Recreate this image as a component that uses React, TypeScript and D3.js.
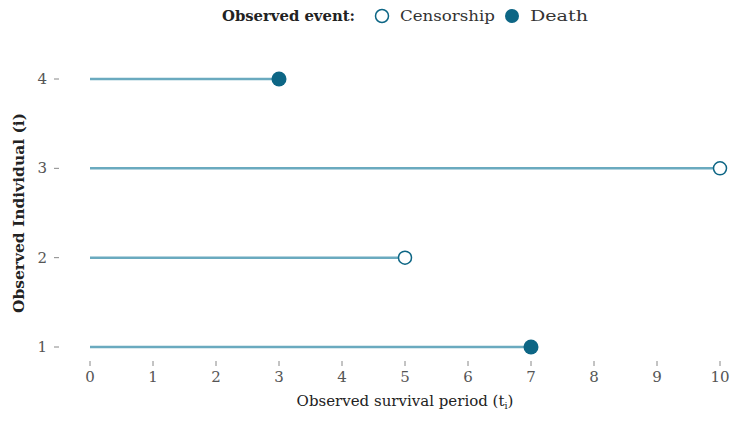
import React from "react";
import * as d3 from "d3";

const individuals = [1, 2, 3, 4];
const survivalTimes = [7, 5, 10, 3];
const events = ["Death", "Censorship", "Censorship", "Death"];
const xTicks = [0, 1, 2, 3, 4, 5, 6, 7, 8, 9, 10];
const legendItems = ["Censorship", "Death"];

const W = 730;
const H = 421;
const lineColor = "#6aaabf";
const dotColor = "#0d6685";
const font = "'DejaVu Serif', 'Liberation Serif', serif";

export default function App() {
  const x = d3.scaleLinear().domain([0, 10]).range([90, 720]);
  const y = d3.scaleLinear().domain([1, 4]).range([347, 79]);
  return (
    <svg width={W} height={H} style={{ position: "absolute", left: 0, top: 0 }} fontFamily={font}>
      <rect width={W} height={H} fill="#fff" />
      {/* legend */}
      <g>
        <text x={222} y={21} fontSize={14.5} fontWeight="bold" fill="#222" textLength={133} lengthAdjust="spacingAndGlyphs">Observed event:</text>
        <circle cx={382} cy={16} r={6.5} fill="#fff" stroke={dotColor} strokeWidth={1.5} />
        <text x={400} y={21} fontSize={15.5} fill="#333" textLength={95} lengthAdjust="spacingAndGlyphs">{legendItems[0]}</text>
        <circle cx={512} cy={16} r={7} fill={dotColor} />
        <text x={530} y={21} fontSize={15.5} fill="#333" textLength={58} lengthAdjust="spacingAndGlyphs">{legendItems[1]}</text>
      </g>
      {/* y axis */}
      {individuals.map((d) => (
        <g key={"y" + d}>
          <line x1={54} x2={59} y1={y(d)} y2={y(d)} stroke="#888" strokeWidth={1} />
          <text x={47} y={y(d) + 5} fontSize={15} textAnchor="end" fill="#555">{d}</text>
        </g>
      ))}
      {/* x axis */}
      {xTicks.map((t) => (
        <g key={"x" + t}>
          <line x1={x(t)} x2={x(t)} y1={361} y2={366} stroke="#888" strokeWidth={1} />
          <text x={x(t)} y={382} fontSize={15} textAnchor="middle" fill="#555">{t}</text>
        </g>
      ))}
      {/* segments */}
      {individuals.map((d, i) => (
        <line key={"s" + d} x1={x(0)} x2={x(survivalTimes[i])} y1={y(d)} y2={y(d)} stroke={lineColor} strokeWidth={2.5} />
      ))}
      {individuals.map((d, i) =>
        events[i] === "Death" ? (
          <circle key={"p" + d} cx={x(survivalTimes[i])} cy={y(d)} r={7.5} fill={dotColor} />
        ) : (
          <circle key={"p" + d} cx={x(survivalTimes[i])} cy={y(d)} r={6.5} fill="#fff" stroke={dotColor} strokeWidth={1.5} />
        )
      )}
      {/* titles */}
      <text x={405} y={406} fontSize={15} textAnchor="middle" fill="#222">
        Observed survival period (t<tspan fontSize={9.5} dy={3}>i</tspan><tspan dy={-3}>)</tspan>
      </text>
      <text transform="translate(24,213) rotate(-90)" fontSize={14.5} fontWeight="bold" textAnchor="middle" fill="#222" textLength={200} lengthAdjust="spacingAndGlyphs">
        Observed Individual (i)
      </text>
    </svg>
  );
}
